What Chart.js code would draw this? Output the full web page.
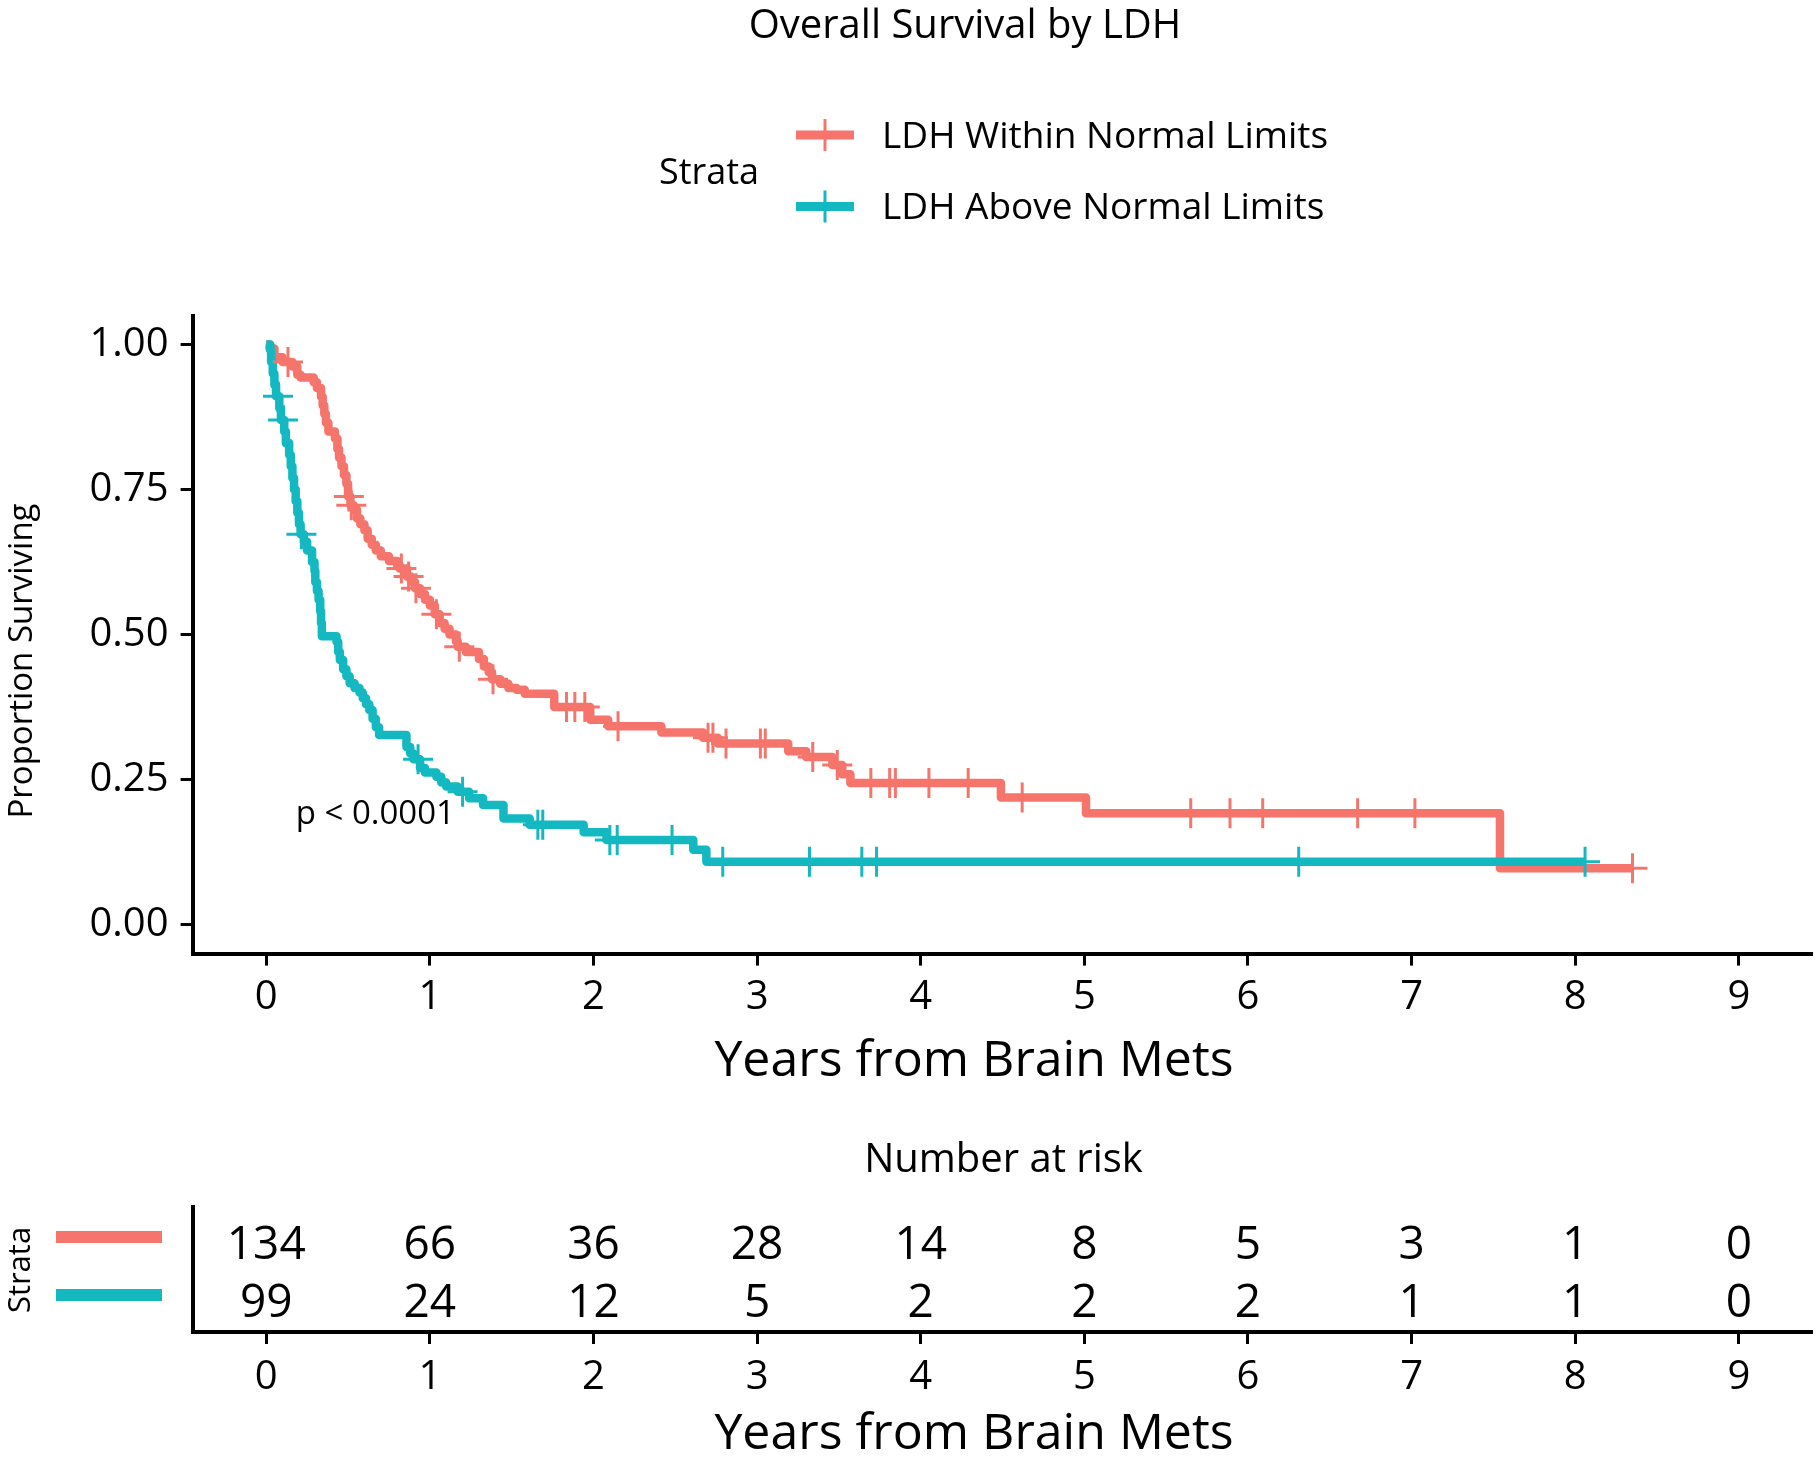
<!DOCTYPE html>
<html>
<head>
<meta charset="utf-8">
<title>Overall Survival by LDH</title>
<script src="https://cdn.jsdelivr.net/npm/chart.js@4.4.1/dist/chart.umd.min.js"></script>
<style>
  body { margin: 0; background: #fff; }
  #wrap { position: relative; width: 1819px; height: 1460px; overflow: hidden; background: #fff; }
  canvas { position: absolute; left: 0; }
  #survival { top: 0; }
  #risk { top: 1110px; }
</style>
</head>
<body>
<div id="wrap">
  <canvas id="survival" width="1819" height="1100"></canvas>
  <canvas id="risk" width="1819" height="350"></canvas>
</div>
<script>
const strata = ['LDH Within Normal Limits', 'LDH Above Normal Limits']
const xTicks = [0, 1, 2, 3, 4, 5, 6, 7, 8, 9]
const yTicks = [0, 0.25, 0.5, 0.75, 1]

// LDH within normal limits: time of each drop (years) and survival after it
const withinTime = [0, 0.02, 0.05, 0.10, 0.16, 0.19, 0.21, 0.29, 0.31, 0.335,
    0.345, 0.355, 0.365, 0.38, 0.42, 0.435, 0.445, 0.46, 0.475, 0.49,
    0.50, 0.515, 0.535, 0.555, 0.575, 0.60, 0.62, 0.645, 0.67, 0.70,
    0.75, 0.80, 0.815, 0.86, 0.885, 0.91, 0.94, 0.97, 1.00, 1.03,
    1.06, 1.09, 1.12, 1.16, 1.17, 1.22, 1.30, 1.33, 1.36, 1.38,
    1.43, 1.48, 1.53, 1.58, 1.76, 1.98, 2.09, 2.415, 2.67, 2.76,
    3.19, 3.30, 3.46, 3.52, 3.57, 4.49, 5.01, 7.54]
const withinSurv = [1.0, 0.993, 0.978, 0.970, 0.962, 0.948, 0.943, 0.935, 0.925, 0.910,
    0.895, 0.880, 0.865, 0.850, 0.838, 0.820, 0.805, 0.790, 0.775, 0.760,
    0.738, 0.723, 0.715, 0.700, 0.690, 0.680, 0.665, 0.655, 0.645, 0.635,
    0.627, 0.620, 0.614, 0.600, 0.590, 0.580, 0.570, 0.560, 0.550, 0.535,
    0.520, 0.510, 0.500, 0.488, 0.479, 0.470, 0.458, 0.445, 0.435, 0.423,
    0.415, 0.408, 0.405, 0.398, 0.375, 0.353, 0.342, 0.331, 0.322, 0.312,
    0.299, 0.289, 0.275, 0.259, 0.244, 0.219, 0.192, 0.097]
const withinCensor = [0.133, 0.505, 0.52, 0.826, 0.87, 0.915, 1.04, 1.18, 1.386, 1.835,
    1.886, 1.947, 2.15, 2.70, 2.73, 2.81, 3.02, 3.05, 3.34, 3.49,
    3.695, 3.81, 3.845, 4.05, 4.29, 4.62, 5.65, 5.89, 6.09, 6.67, 7.02, 8.35]

// LDH above normal limits
const aboveTime = [0, 0.025, 0.03, 0.04, 0.05, 0.06, 0.08, 0.09, 0.11, 0.12,
    0.14, 0.15, 0.16, 0.17, 0.18, 0.19, 0.20, 0.21, 0.23, 0.25,
    0.28, 0.295, 0.30, 0.31, 0.32, 0.33, 0.335, 0.34, 0.43, 0.44,
    0.45, 0.47, 0.49, 0.51, 0.54, 0.57, 0.59, 0.61, 0.63, 0.65,
    0.67, 0.69, 0.857, 0.88, 0.90, 0.94, 0.97, 1.04, 1.07, 1.10,
    1.17, 1.24, 1.325, 1.45, 1.61, 1.94, 2.08, 2.61, 2.69]
const aboveSurv = [1.0, 0.99, 0.97, 0.95, 0.93, 0.911, 0.89, 0.87, 0.85, 0.83,
    0.81, 0.79, 0.77, 0.75, 0.73, 0.71, 0.69, 0.673, 0.66, 0.645,
    0.625, 0.61, 0.59, 0.575, 0.56, 0.54, 0.52, 0.497, 0.487, 0.47,
    0.456, 0.44, 0.428, 0.416, 0.408, 0.40, 0.39, 0.38, 0.37, 0.355,
    0.34, 0.327, 0.306, 0.295, 0.285, 0.27, 0.262, 0.255, 0.245, 0.238,
    0.229, 0.218, 0.206, 0.183, 0.172, 0.159, 0.146, 0.129, 0.1085]
const aboveCensor = [0.072, 0.103, 0.215, 0.928, 1.2, 1.66, 1.69, 2.10, 2.145, 2.48,
    2.79, 3.32, 3.64, 3.73, 6.31, 8.06]

const riskTimes = [0, 1, 2, 3, 4, 5, 6, 7, 8, 9]
const withinRisk = [134, 66, 36, 28, 14, 8, 5, 3, 1, 0]
const aboveRisk = [99, 24, 12, 5, 2, 2, 2, 1, 1, 0]
const pValue = 'p < 0.0001'

const FONT = '"Open Sans", "DejaVu Sans", sans-serif'
const RED = '#F5756C'
const TEAL = '#13B8C0'

Chart.defaults.font.family = FONT
Chart.defaults.color = '#000'

function survAt(times, surv, t) {
    let s = surv[0]
    for (let i = 0; i < times.length; i++) {
        if (times[i] <= t) s = surv[i]
    }
    return s
}

function stepPoints(times, surv, censor) {
    const pts = times.map((t, i) => ({x: t, y: surv[i]}))
    const end = Math.max(...censor)
    pts.push({x: end, y: survAt(times, surv, end)})
    return pts
}

function censorPoints(times, surv, censor) {
    return censor.map(t => ({x: t, y: survAt(times, surv, t)}))
}

function xScale(height, pad) {
    return {
        type: 'linear', min: -0.45, max: 9.45,
        afterFit: s => {
            s.height = height
            s.paddingLeft = 0
            s.paddingRight = 0
        },
        afterBuildTicks: s => { s.ticks = xTicks.map(v => ({value: v})) },
        grid: {drawOnChartArea: false, tickLength: 12, tickWidth: 3, tickColor: '#000'},
        border: {color: '#000', width: 4},
        ticks: {font: {size: 40}, color: '#000', padding: pad, maxRotation: 0, callback: v => v}
    }
}

const mainLabels = {
    id: 'mainLabels',
    afterDraw(chart) {
        const ctx = chart.ctx
        const x = chart.scales.x
        const y = chart.scales.y
        ctx.save()
        ctx.fillStyle = '#000'
        ctx.textBaseline = 'middle'
        ctx.textAlign = 'center'
        ctx.font = '40px ' + FONT
        ctx.fillText('Overall Survival by LDH', 965, 26.5)

        ctx.textAlign = 'left'
        ctx.font = '36px ' + FONT
        ctx.fillText('Strata', 659, 173.5)
        const keys = [[RED, 135], [TEAL, 206.5]]
        keys.forEach(([c, ky], i) => {
            ctx.fillStyle = c
            ctx.fillRect(796, ky - 4.5, 58, 9)
            ctx.strokeStyle = c
            ctx.lineWidth = 3
            ctx.beginPath()
            ctx.moveTo(825, ky - 16)
            ctx.lineTo(825, ky + 16)
            ctx.stroke()
            ctx.fillStyle = '#000'
            ctx.font = '37px ' + FONT
            ctx.fillText(strata[i], 882, ky + 2)
        })

        ctx.font = '33px ' + FONT
        ctx.fillText(pValue, x.getPixelForValue(0.18), y.getPixelForValue(0.19))

        ctx.textAlign = 'center'
        ctx.font = '50px ' + FONT
        ctx.fillText('Years from Brain Mets', 974, 1062)

        ctx.translate(23, 661)
        ctx.rotate(-Math.PI / 2)
        ctx.font = '33px ' + FONT
        ctx.fillText('Proportion Surviving', 0, 0)
        ctx.restore()
    }
}

new Chart(document.getElementById('survival'), {
    type: 'scatter',
    data: {
        datasets: [{
            label: strata[0],
            data: stepPoints(withinTime, withinSurv, withinCensor),
            showLine: true, stepped: 'before',
            borderColor: RED, borderWidth: 8.5, borderJoinStyle: 'round',
            pointRadius: 0, order: 3
        }, {
            label: strata[1],
            data: stepPoints(aboveTime, aboveSurv, aboveCensor),
            showLine: true, stepped: 'before',
            borderColor: TEAL, borderWidth: 8.5, borderJoinStyle: 'round',
            pointRadius: 0, order: 2
        }, {
            label: strata[0] + ' (censored)',
            data: censorPoints(withinTime, withinSurv, withinCensor),
            pointStyle: 'cross', pointRadius: 15, pointBorderWidth: 3,
            borderColor: RED, backgroundColor: RED, order: 1
        }, {
            label: strata[1] + ' (censored)',
            data: censorPoints(aboveTime, aboveSurv, aboveCensor),
            pointStyle: 'cross', pointRadius: 15, pointBorderWidth: 3,
            borderColor: TEAL, backgroundColor: TEAL, order: 0
        }]
    },
    options: {
        responsive: false, animation: false, devicePixelRatio: 1, events: [],
        layout: {autoPadding: false, padding: {top: 315.5, right: 6.5, left: 0, bottom: 0}},
        plugins: {legend: {display: false}, tooltip: {enabled: false}},
        scales: {
            x: xScale(146.4, 8),
            y: {
                type: 'linear', min: -0.05, max: 1.05,
                afterFit: s => { s.width = 192.6 },
                afterBuildTicks: s => { s.ticks = yTicks.map(v => ({value: v})) },
                grid: {drawOnChartArea: false, tickLength: 12, tickWidth: 3, tickColor: '#000'},
                border: {color: '#000', width: 4},
                ticks: {font: {size: 40}, color: '#000', padding: 12, callback: v => v.toFixed(2)}
            }
        }
    },
    plugins: [mainLabels]
})

const riskLabels = {
    id: 'riskLabels',
    afterDraw(chart) {
        const ctx = chart.ctx
        ctx.save()
        ctx.fillStyle = '#000'
        ctx.textBaseline = 'middle'
        ctx.textAlign = 'center'
        ctx.font = '40px ' + FONT
        ctx.fillText('Number at risk', 1003.5, 51)

        const colors = [RED, TEAL]
        chart.data.datasets.forEach((ds, i) => {
            const meta = chart.getDatasetMeta(i)
            ctx.fillStyle = colors[i]
            ctx.fillRect(56, meta.data[0].y - 6, 106, 12)
            ctx.fillStyle = '#000'
            ctx.font = '46px ' + FONT
            meta.data.forEach((pt, j) => {
                ctx.fillText(String(ds.data[j].n), pt.x, pt.y + 8.5)
            })
        })

        ctx.font = '50px ' + FONT
        ctx.fillText('Years from Brain Mets', 974, 325)

        ctx.translate(21, 160)
        ctx.rotate(-Math.PI / 2)
        ctx.font = '31px ' + FONT
        ctx.fillText('Strata', 0, 0)
        ctx.restore()
    }
}

new Chart(document.getElementById('risk'), {
    type: 'scatter',
    data: {
        datasets: [{
            label: strata[0],
            data: riskTimes.map((t, i) => ({x: t, y: 2, n: withinRisk[i]})),
            pointRadius: 0
        }, {
            label: strata[1],
            data: riskTimes.map((t, i) => ({x: t, y: 1, n: aboveRisk[i]})),
            pointRadius: 0
        }]
    },
    options: {
        responsive: false, animation: false, devicePixelRatio: 1, events: [],
        layout: {autoPadding: false, padding: {top: 97, right: 6.5, left: 0, bottom: 0}},
        plugins: {legend: {display: false}, tooltip: {enabled: false}},
        scales: {
            x: xScale(128, 10),
            y: {
                type: 'linear', min: 0.362, max: 2.517,
                afterFit: s => { s.width = 192.6 },
                grid: {display: false},
                border: {color: '#000', width: 4},
                ticks: {display: false}
            }
        }
    },
    plugins: [riskLabels]
})
</script>
</body>
</html>
